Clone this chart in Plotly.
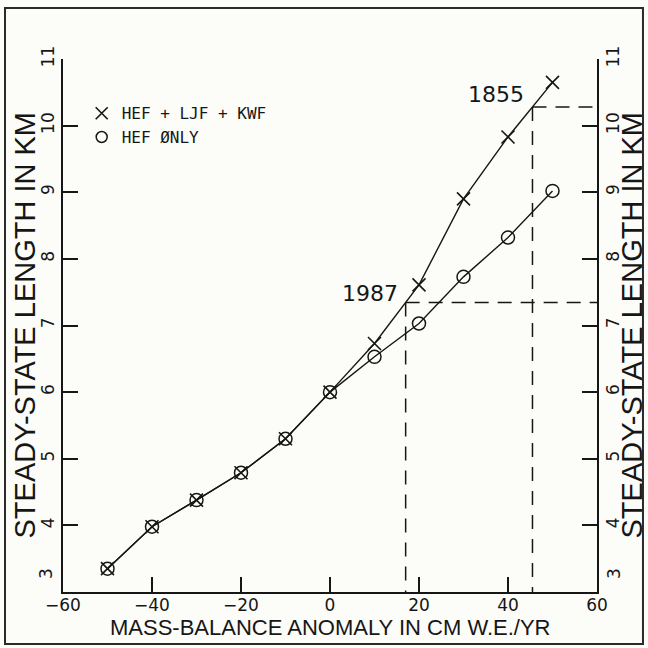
import numpy as np
import plotly.graph_objects as go

# Mass-balance anomaly (cm w.e./yr) and modelled steady-state glacier length (km)
anomaly = [-50, -40, -30, -20, -10, 0, 10, 20, 30, 40, 50]
length_hef_ljf_kwf = [3.35, 3.98, 4.38, 4.79, 5.30, 6.00, 6.73, 7.61, 8.90, 9.83, 10.65]
length_hef_only = [3.35, 3.98, 4.38, 4.79, 5.30, 6.00, 6.53, 7.03, 7.73, 8.32, 9.02]

# Reference years and the anomalies that reproduce their observed lengths
event_years = ["1987", "1855"]
event_anomaly = [17, 45.5]
event_length = [float(np.interp(a, anomaly, length_hef_ljf_kwf)) for a in event_anomaly]

x_ticks = [-60, -40, -20, 0, 20, 40, 60]
y_ticks = [3, 4, 5, 6, 7, 8, 9, 10, 11]
x_range = [-60, 60]
y_range = [3, 11]

ink = "#161616"
paper = "#fcfcf8"

fig = go.Figure()

# Dashed guide lines from each reference point to the right and bottom axes
for a, L in zip(event_anomaly, event_length):
    fig.add_trace(go.Scatter(x=[a, x_range[1]], y=[L, L], mode="lines",
                             line=dict(color=ink, width=1.5, dash="14px,9px"),
                             showlegend=False, hoverinfo="skip"))
    fig.add_trace(go.Scatter(x=[a, a], y=[L, y_range[0]], mode="lines",
                             line=dict(color=ink, width=1.5, dash="14px,10px"),
                             showlegend=False, hoverinfo="skip"))

fig.add_trace(go.Scatter(x=anomaly, y=length_hef_ljf_kwf, mode="lines+markers",
                         line=dict(color=ink, width=1.4),
                         marker=dict(symbol="x-thin-open", size=13, color=ink,
                                     line=dict(color=ink, width=1.6)),
                         showlegend=False))
fig.add_trace(go.Scatter(x=anomaly, y=length_hef_only, mode="lines+markers",
                         line=dict(color=ink, width=1.4),
                         marker=dict(symbol="circle-open", size=13, color=ink,
                                     line=dict(color=ink, width=1.5)),
                         showlegend=False))

# Legend entries (symbol only)
fig.add_trace(go.Scatter(x=[None], y=[None], mode="markers", name="HEF + LJF + KWF",
                         marker=dict(symbol="x-thin-open", size=12, color=ink,
                                     line=dict(color=ink, width=1.6))))
fig.add_trace(go.Scatter(x=[None], y=[None], mode="markers", name="HEF ØNLY",
                         marker=dict(symbol="circle-open", size=11, color=ink,
                                     line=dict(color=ink, width=1.5))))

# Right-hand axis duplicate
fig.add_trace(go.Scatter(x=[None], y=[None], yaxis="y2", showlegend=False,
                         hoverinfo="skip"))

for year, a, L, dy in zip(event_years, event_anomaly, event_length, [-6, -2]):
    fig.add_annotation(x=a, y=L, text=year, showarrow=False,
                       xanchor="right", yanchor="bottom", xshift=-6, yshift=dy,
                       font=dict(family="DejaVu Sans", size=22, color=ink))

tick_font = dict(family="DejaVu Sans", size=17, color=ink)
y_ticktext = ["" if t == y_range[0] else str(t) for t in y_ticks]

yaxis_common = dict(range=y_range, tickmode="array", tickvals=y_ticks,
                    ticktext=y_ticktext, ticks="inside", ticklen=15, tickwidth=1.6,
                    tickcolor=ink, showline=True, linecolor=ink, linewidth=1.6,
                    showgrid=False, zeroline=False, tickangle=-90,
                    tickfont=tick_font, automargin=False)

fig.update_layout(
    width=648, height=648,
    margin=dict(l=63, r=51, t=59, b=56),
    paper_bgcolor=paper, plot_bgcolor=paper,
    xaxis=dict(range=x_range, tickmode="array", tickvals=x_ticks, ticks="inside",
               ticklen=15, tickwidth=1.6, tickcolor=ink, showline=True,
               linecolor=ink, linewidth=1.6, showgrid=False, zeroline=False,
               tickfont=tick_font, automargin=False, ticklabelstandoff=-3),
    yaxis=yaxis_common,
    yaxis2=dict(yaxis_common, overlaying="y", side="right"),
    legend=dict(x=0.035, y=0.93, xanchor="left", yanchor="top",
                bgcolor="rgba(0,0,0,0)", tracegroupgap=0,
                font=dict(family="DejaVu Sans Mono", size=16, color=ink)),
    shapes=[dict(type="rect", xref="paper", yref="paper",
                 x0=-0.1086, x1=1.0861, y0=-0.0976, y1=1.0957,
                 line=dict(color="#2a2a2a", width=2))],
)

# Bottom tick label "3" sits just above the corner on both vertical axes
for side_x, anchor in [(x_range[0], "right"), (x_range[1], "left")]:
    fig.add_annotation(x=side_x, y=y_range[0], text=str(y_range[0]), showarrow=False,
                       textangle=-90, xanchor=anchor, yanchor="middle",
                       xshift=-5 if anchor == "right" else 5, yshift=18,
                       font=tick_font)

# Axis titles
title_font_y = dict(family="Liberation Sans", size=29, color=ink)
fig.add_annotation(xref="paper", yref="paper", x=-0.0712, y=0.5,
                   text="STEADY-STATE LENGTH IN KM", textangle=-90,
                   showarrow=False, xanchor="center", yanchor="middle",
                   font=title_font_y)
fig.add_annotation(xref="paper", yref="paper", x=1.0637, y=0.5,
                   text="STEADY-STATE LENGTH IN KM", textangle=-90,
                   showarrow=False, xanchor="center", yanchor="middle",
                   font=title_font_y)
fig.add_annotation(xref="paper", yref="paper", x=0.5, y=-0.0675,
                   text="MASS-BALANCE ANOMALY IN CM W.E./YR",
                   showarrow=False, xanchor="center", yanchor="middle",
                   font=dict(family="Liberation Sans", size=22, color=ink))

fig.write_html("out.html")
